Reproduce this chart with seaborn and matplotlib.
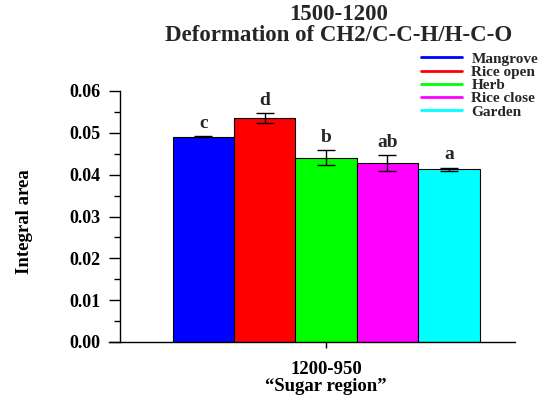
import numpy as np
import pandas as pd
import matplotlib
matplotlib.use("Agg")
import matplotlib.pyplot as plt
from matplotlib.lines import Line2D
import seaborn as sns

# Mean integral area per land use, with standard errors and significance letters
sites = ["Mangrove", "Rice open", "Herb", "Rice close", "Garden"]
means = [0.0491, 0.0536, 0.0441, 0.0427, 0.0413]
errors = [0.0002, 0.0012, 0.0018, 0.0019, 0.0004]
letters = ["c", "d", "b", "ab", "a"]
colors = ["#0000ff", "#ff0000", "#00ff00", "#ff00ff", "#00ffff"]
region = "1200-950\n\u201cSugar region\u201d"
title = "1500-1200\nDeformation of CH2/C-C-H/H-C-O"
yticks = [0.00, 0.01, 0.02, 0.03, 0.04, 0.05, 0.06]

sns.set_theme(style="ticks")
plt.rcParams["font.family"] = ["Liberation Serif", "DejaVu Serif"]
plt.rcParams["font.weight"] = "bold"

df = pd.DataFrame({"region": [region] * len(sites), "site": sites, "value": means})

fig = plt.figure(figsize=(5.45, 4.0), dpi=100)
ax = fig.add_axes([109 / 545, 1 - 342 / 400, 406 / 545, 251 / 400])

sns.barplot(data=df, x="region", y="value", hue="site", hue_order=sites,
            palette=colors, width=0.8, gap=0, saturation=1, errorbar=None,
            edgecolor="black", linewidth=0.8, ax=ax, legend=False)

# error bars and letters centred on each drawn bar
for cont, m, e, lab in zip(ax.containers, means, errors, letters):
    bar = cont.patches[0]
    cx = bar.get_x() + bar.get_width() / 2
    ax.errorbar(cx, m, yerr=e, fmt="none", ecolor="black", elinewidth=1.0,
                capsize=6.5, capthick=1.0, zorder=5)
    ax.annotate(lab, (cx, m + e), xytext=(0, 3), textcoords="offset points",
                ha="center", va="bottom", fontsize=14, fontweight="bold")

ax.set_xlim(-0.5655, 0.4925)
ax.set_ylim(0, 0.06)
ax.set_yticks(yticks)
ax.set_yticklabels([f"{v:.2f}" for v in yticks])
ax.yaxis.set_minor_locator(matplotlib.ticker.MultipleLocator(0.005))

for s in ["top", "right"]:
    ax.spines[s].set_visible(False)
ax.spines["left"].set_position(("axes", 11 / 406))
for s in ["left", "bottom"]:
    ax.spines[s].set_color("black")
    ax.spines[s].set_linewidth(1.0)

ax.tick_params(axis="y", which="major", direction="out", length=8, width=1.0,
               pad=6, labelsize=13, colors="black")
ax.tick_params(axis="y", which="minor", direction="out", length=4, width=1.0,
               colors="black")
ax.tick_params(axis="x", which="major", direction="out", length=4, width=1.0,
               pad=10, labelsize=13.5, colors="black")
for t in ax.get_xticklabels() + ax.get_yticklabels():
    t.set_fontweight("bold")
for t in ax.get_xticklabels():
    t.set_linespacing(1.0)

ax.set_xlabel("")
ax.set_ylabel("Integral area", fontsize=13.5, fontweight="bold", color="black",
              va="center")
ax.yaxis.set_label_coords((25 - 109) / 406, 0.48)

fig.text(339 / 545, 1 - 25 / 400, title, ha="center", va="center",
         fontsize=16.5, fontweight="bold", linespacing=0.95)

handles = [Line2D([0], [0], color=c, lw=2) for c in colors]
ax.legend(handles, sites, loc="upper left", bbox_to_anchor=(421 / 545, 1 - 52 / 400),
          bbox_transform=fig.transFigure, frameon=False,
          borderpad=0, borderaxespad=0, handlelength=2.7, handletextpad=0.6,
          labelspacing=-0.03, prop={"weight": "bold", "size": 11})

fig.savefig("out.png", dpi=100)
